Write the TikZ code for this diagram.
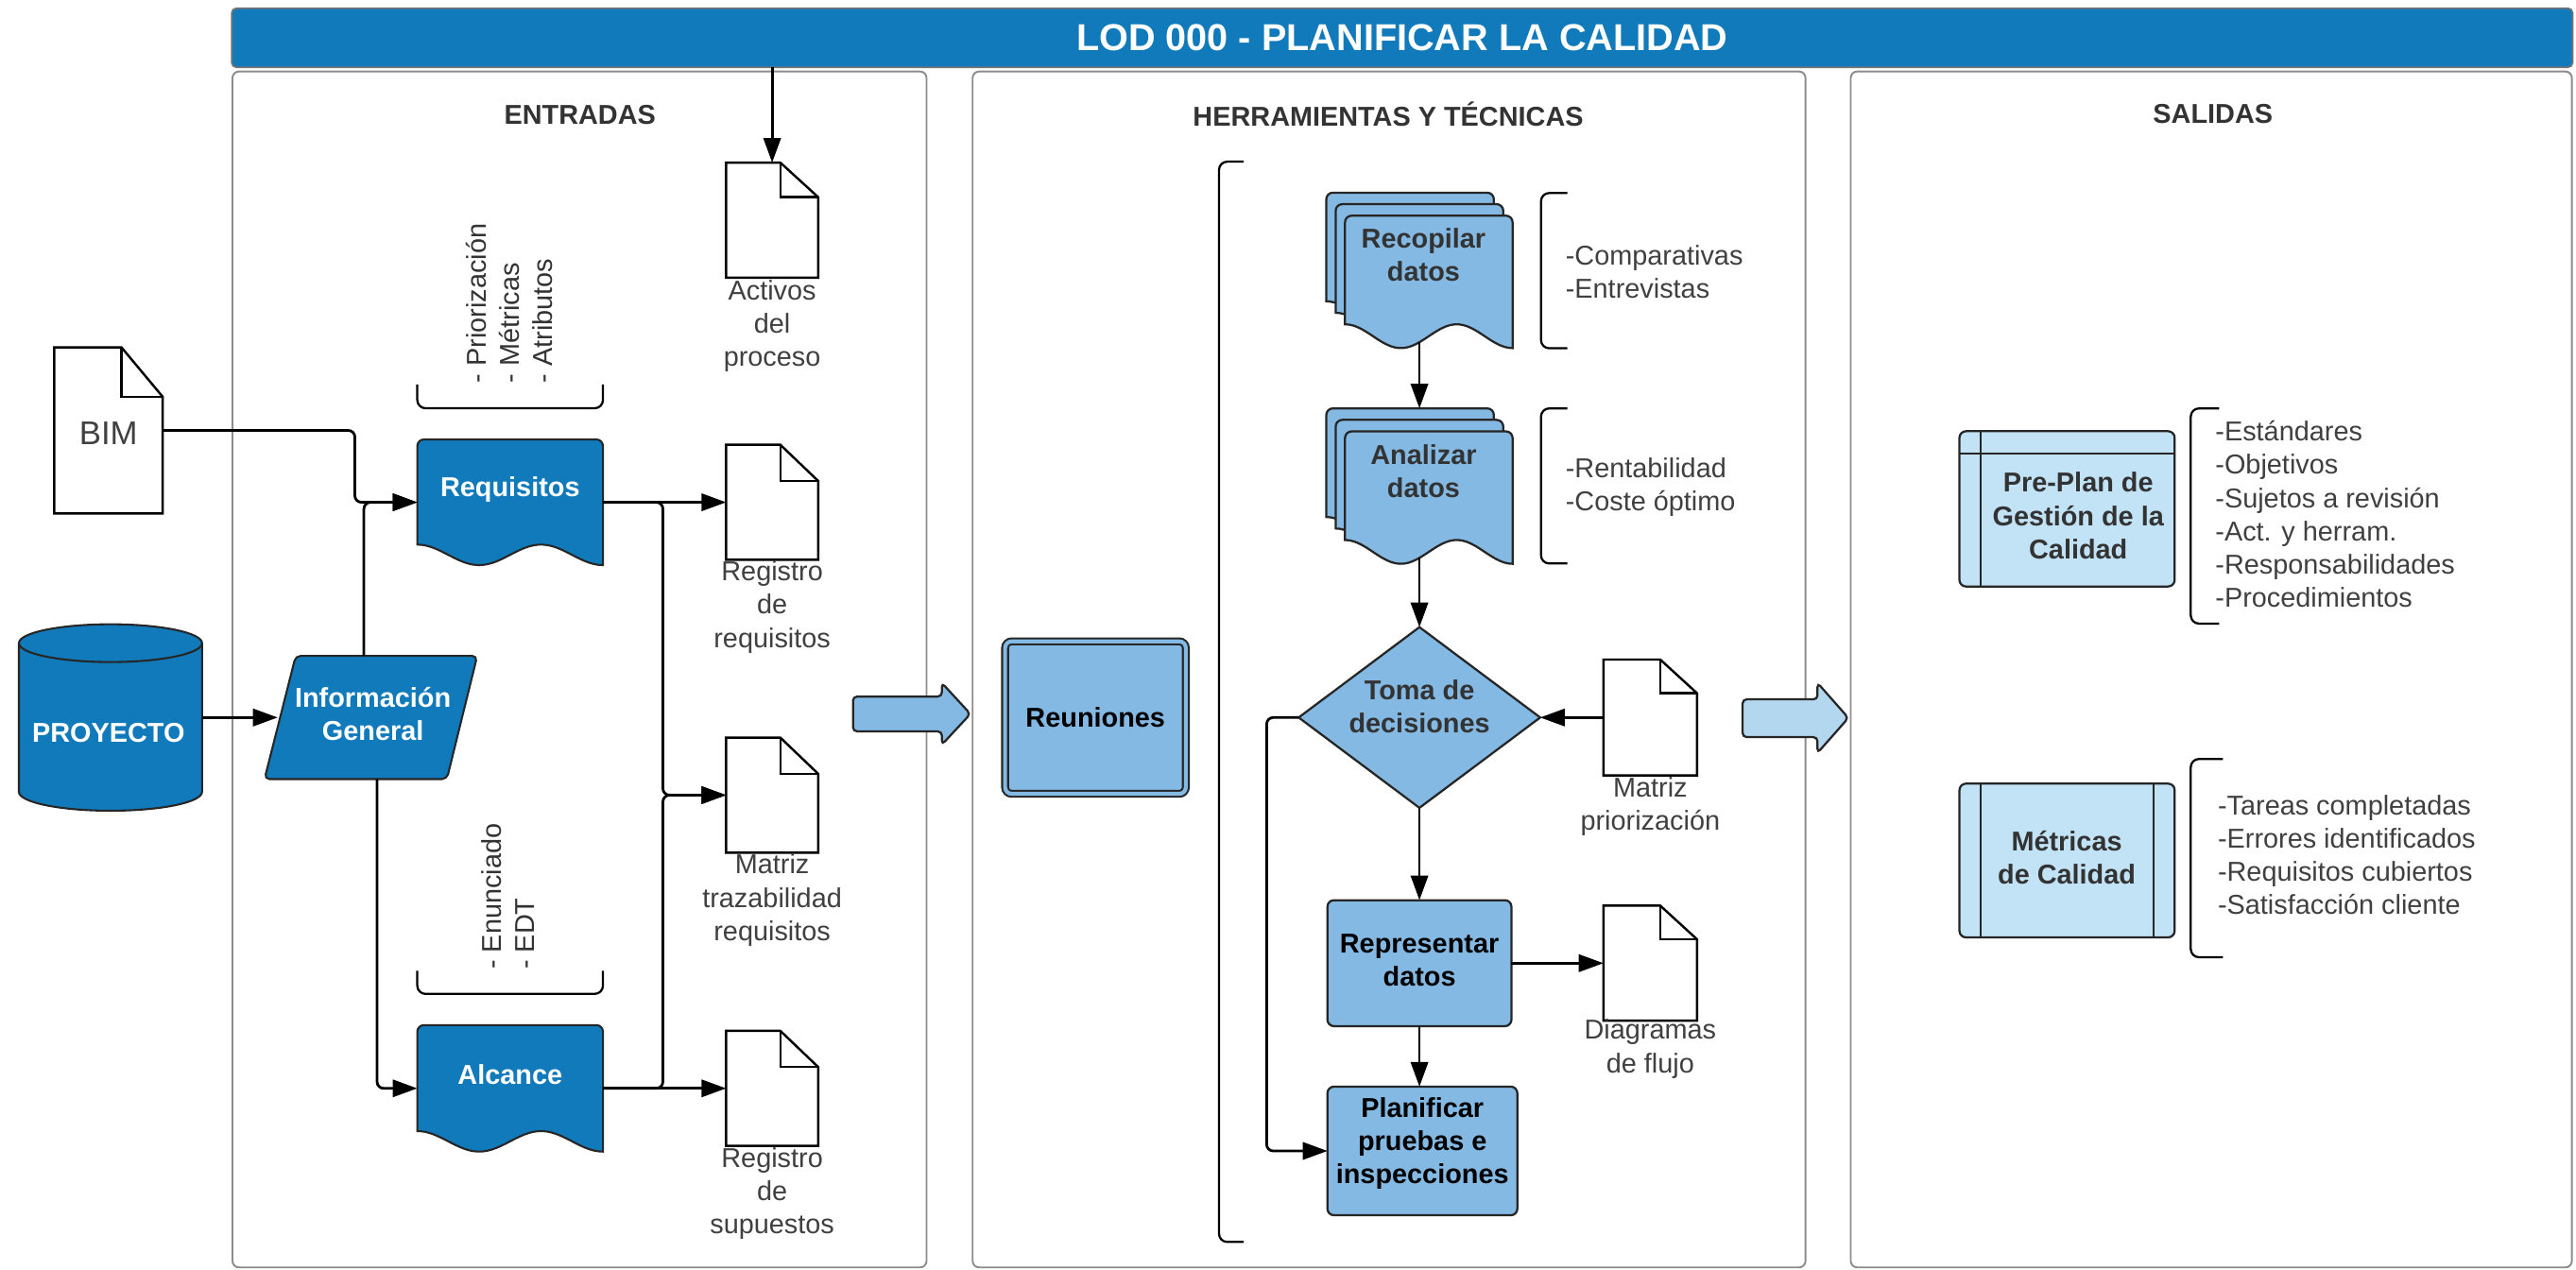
\documentclass[tikz,border=0pt]{standalone}
\usepackage{fontspec}
\setmainfont{Liberation Sans}
\usetikzlibrary{arrows.meta,shapes.geometric,calc}

\definecolor{bluedark}{HTML}{107ABB}
\definecolor{bluemid}{HTML}{83B9E3}
\definecolor{bluelight}{HTML}{C1E3F5}
\definecolor{arrowlight}{HTML}{B4D7F0}
\definecolor{panelgray}{HTML}{8C8C8C}
\definecolor{txtdark}{HTML}{333333}
\definecolor{txtgray}{HTML}{404040}

\tikzset{
  every node/.style={inner sep=0pt, outer sep=0pt},
  reg/.style={font=\fontsize{16.6}{20.3}\selectfont, text=txtgray, align=center},
  regl/.style={reg, align=left},
  bold/.style={font=\bfseries\fontsize{16.6}{20.3}\selectfont, align=center},
  hdr/.style={bold, text=txtdark},
  panel/.style={draw=panelgray, line width=1.1pt, rounded corners=4pt, fill=white},
  doc/.style={draw=black, fill=white, line width=1.4pt},
  bshape/.style={draw=black!85, fill=bluedark, line width=1.2pt},
  hshape/.style={draw=black!85, fill=bluemid, line width=1.3pt},
  sshape/.style={draw=black!85, fill=bluelight, line width=1.3pt},
  inline/.style={draw=black!85, line width=1.3pt},
  conn/.style={draw=black, line width=1.6pt, rounded corners=4pt,
               -{Triangle[length=15pt, width=10.5pt]}},
  brk/.style={draw=black, line width=1.3pt, rounded corners=5pt},
  blockarrow/.style={draw=black!85, line width=1.3pt, rounded corners=2.5pt},
}

% page with a folded corner: name, x, y (top), width, height, fold width, fold height
\newcommand\pagedoc[7]{%
  \node[minimum width=#4pt, minimum height=#5pt, anchor=north west] (#1) at (#2,#3) {};
  \filldraw[doc] (#1.north west) -- ([xshift=-#6pt]#1.north east)
     -- ([yshift=-#7pt]#1.north east) -- (#1.south east) -- (#1.south west) -- cycle;
  \draw[doc, fill=none] ([xshift=-#6pt]#1.north east) |- ([yshift=-#7pt]#1.north east);
}

% document outline with a wavy lower edge: x, top, width, bottom (right corner), wave depth
\newcommand\wavepath[5]{%
  (#1,#4-#5) [rounded corners=4pt] -- (#1,#2) -- (#1+#3,#2) -- (#1+#3,#4) [sharp corners]
  -- plot[variable=\t, domain=1:0, samples=41] ({#1+\t*#3},{#4-#5/2-#5/2*cos(540*\t)}) -- cycle}

\begin{document}
\begin{tikzpicture}[x=1pt, y=-1pt]
\fill[white] (0,0) rectangle (1568,773);
\useasboundingbox (0,0) rectangle (1568,773);

% ---------- columns ----------
\node[panel, minimum width=422.5pt, minimum height=728pt, anchor=north west] (pin) at (141.5,43.5) {};
\node[panel, minimum width=507pt, minimum height=728pt, anchor=north west] (ptools) at (592,43.5) {};
\node[panel, minimum width=439pt, minimum height=728pt, anchor=north west] (pout) at (1126.5,43.5) {};

\node[fill=bluedark, draw=black!55, line width=1pt, rounded corners=3pt,
      minimum width=1425pt, minimum height=36pt,
      font=\bfseries\fontsize{22.8}{26}\selectfont, text=white] (title) at (853.5,23)
      {LOD 000 - PLANIFICAR LA CALIDAD};

\node[hdr] (hin) at (353,70) {ENTRADAS};
\node[hdr] (htools) at (845,69.5) {HERRAMIENTAS Y TÉCNICAS};
\node[hdr] (hout) at (1347,69.5) {SALIDAS};

% ---------- inputs ----------
\pagedoc{bim}{33}{211.5}{66}{101}{25}{30}
\node[reg, font=\fontsize{20}{24}\selectfont] (bimt) at (66,263.5) {BIM};

% PROYECTO cylinder
\node[minimum width=111.5pt, minimum height=113.5pt] (pro) at (67.25,436.75) {};
\filldraw[bshape] (11.5,391.5) -- (11.5,482)
   .. controls (11.5,488.35) and (36.46,493.5) .. (67.25,493.5)
   .. controls (98.04,493.5) and (123,488.35) .. (123,482)
   -- (123,391.5)
   .. controls (123,385.15) and (98.04,380) .. (67.25,380)
   .. controls (36.46,380) and (11.5,385.15) .. (11.5,391.5) -- cycle;
\draw[bshape, fill=none] (11.5,391.5)
   .. controls (11.5,397.85) and (36.46,403) .. (67.25,403)
   .. controls (98.04,403) and (123,397.85) .. (123,391.5);
\node[bold, text=white] (prot) at (66,446) {PROYECTO};

% Información General
\node[minimum width=129.5pt, minimum height=75pt] (info) at (225.75,436.75) {};
\filldraw[bshape, rounded corners=3pt] (180,399.25) -- (290.5,399.25) -- (272,474.25) -- (161,474.25) -- cycle;
\node[bold, text=white] (infot) at (227,434.5) {Información\\General};

% Requisitos and Alcance
\node[minimum width=113pt, minimum height=76.5pt, anchor=north west] (req) at (254,267.5) {};
\filldraw[bshape] \wavepath{254}{267.5}{113}{344}{12.5};
\node[bold, text=white] (reqt) at (310.5,298) {Requisitos};

\node[minimum width=113pt, minimum height=77pt, anchor=north west] (alc) at (254,624) {};
\filldraw[bshape] \wavepath{254}{624}{113}{701}{12.5};
\node[bold, text=white] (alct) at (310.5,654) {Alcance};

\draw[brk] (254,234) |- (310.5,248.5) -| (367,234);
\node[regl, text=txtdark, rotate=90, anchor=west] (reqnote) at (310,233) {- Priorización\\- Métricas\\- Atributos};
\draw[brk] (254,591) |- (310.5,605) -| (367,591);
\node[regl, text=txtdark, rotate=90, anchor=west] (alcnote) at (309,590) {- Enunciado\\- EDT};

% documents
\pagedoc{act}{442}{99}{56}{70}{23}{21}
\node[reg] (actt) at (470,198.5) {Activos\\del\\proceso};
\pagedoc{rreq}{442}{270.75}{56}{70}{23}{22}
\node[reg] (rreqt) at (470,369.5) {Registro\\de\\requisitos};
\pagedoc{mtz}{442}{449}{56}{70}{23}{22}
\node[reg] (mtzt) at (470,548) {Matriz\\trazabilidad\\requisitos};
\pagedoc{rsup}{442}{627.5}{56}{70}{23}{22}
\node[reg] (rsupt) at (470,726.5) {Registro\\de\\supuestos};

% input connectors
\draw[conn] (title.south -| act.north) -- (act.north);
\draw[conn] (bim.east) -| ([xshift=-38pt]req.west) -- (req.west);
\draw[conn] ([xshift=-4.25pt]info.north) |- (req.west);
\draw[conn] ([xshift=3.75pt]info.south) |- (alc.west);
\draw[conn] (pro.east) -- ([xshift=8pt]info.west);
\draw[conn] (req.east) -- (rreq.west);
\draw[conn] (req.east) -| ([xshift=-38.5pt]mtz.west) -- (mtz.west);
\draw[conn] (alc.east) -| ([xshift=-38.5pt]mtz.west) -- (mtz.west);
\draw[conn] (alc.east) -- (rsup.west);

% ---------- flow arrows between columns ----------
\filldraw[blockarrow, fill=bluemid] (519.2,424) -- (573.3,424) -- (573.3,415.7) -- (590.7,434.6)
   -- (573.3,453.3) -- (573.3,445.2) -- (519.2,445.2) -- cycle;
\filldraw[blockarrow, fill=arrowlight] (1060.7,425.7) -- (1106.3,425.7) -- (1106.3,415.7) -- (1125.1,437)
   -- (1106.3,458.3) -- (1106.3,448.7) -- (1060.7,448.7) -- cycle;

% ---------- tools and techniques ----------
\node[hshape, double=bluemid, double distance=2.4pt, line width=1.2pt, rounded corners=4pt,
      minimum width=110pt, minimum height=92.8pt, font=\bfseries\fontsize{16.6}{20.3}\selectfont,
      text=black] (reu) at (666.8,436.8) {Reuniones};

\draw[brk] (757,98.4) -| (742,427) |- (757,756);

% Recopilar datos (stacked documents)
\node[minimum width=113.4pt, minimum height=94.6pt, anchor=north west] (rec) at (807.3,117.3) {};
\filldraw[hshape] \wavepath{807.3}{117.3}{102}{197.9}{14.5};
\filldraw[hshape] \wavepath{813}{124.3}{102}{204.9}{14.5};
\filldraw[hshape] \wavepath{818.7}{131.3}{102}{211.9}{14.5};
\node[bold, text=txtdark] (rect) at (866.5,155) {Recopilar\\datos};
\coordinate (recout) at (864,208.3);

% Analizar datos (stacked documents)
\node[minimum width=113.4pt, minimum height=94.6pt, anchor=north west] (ana) at (807.3,248.6) {};
\filldraw[hshape] \wavepath{807.3}{248.6}{102}{329.2}{14.5};
\filldraw[hshape] \wavepath{813}{255.6}{102}{336.2}{14.5};
\filldraw[hshape] \wavepath{818.7}{262.6}{102}{343.2}{14.5};
\node[bold, text=txtdark] (anat) at (866.5,287) {Analizar\\datos};
\coordinate (anaout) at (864,339.6);

\draw[brk] (954,117.5) -| (938,165) |- (954,212);
\node[regl, anchor=west] (recnote) at (953,165.5) {-Comparativas\\-Entrevistas};
\draw[brk] (954,248.6) -| (938,296) |- (954,343);
\node[regl, anchor=west] (ananote) at (953,296.5) {-Rentabilidad\\-Coste óptimo};

% decision
\node[hshape, diamond, minimum width=147pt, minimum height=110pt] (dec) at (864,436.75) {};
\node[bold, text=txtdark] (dect) at (864,430) {Toma de\\decisiones};

\pagedoc{mp}{976}{401.5}{57}{70.5}{22.4}{20.5}
\node[reg] (mpt) at (1004.5,490.8) {Matriz\\priorización};

\node[hshape, rounded corners=4pt, minimum width=112pt, minimum height=76.7pt] (rep) at (864,586.3) {};
\node[bold, text=black] (rept) at (864,584.5) {Representar\\datos};

\pagedoc{dia}{976}{551.3}{57}{70}{22.4}{20.5}
\node[reg] (diat) at (1004.5,638.5) {Diagramas\\de flujo};

\node[hshape, rounded corners=4pt, minimum width=115.6pt, minimum height=78.3pt] (pla) at (865.8,700.6) {};
\node[bold, text=black] (plat) at (865.8,696) {Planificar\\pruebas e\\inspecciones};

% tool connectors
\draw[conn] (recout) -- (recout |- ana.north);
\draw[conn] (anaout) -- (dec.north);
\draw[conn] (mp.west) -- (dec.east);
\draw[conn] (dec.west) -- ++(-19.5,0) |- (pla.west);
\draw[conn] (dec.south) -- (rep.north);
\draw[conn] (rep.east) -- (dia.west);
\draw[conn] (rep.south) -- (rep.south |- pla.north);

% ---------- outputs ----------
\node[sshape, rounded corners=4pt, minimum width=131pt, minimum height=94.5pt, anchor=north west] (ppl) at (1192.7,262.5) {};
\draw[inline] ([xshift=12.9pt]ppl.north west) -- ([xshift=12.9pt]ppl.south west);
\draw[inline] ([yshift=-13.5pt]ppl.north west) -- ([yshift=-13.5pt]ppl.north east);
\node[bold, text=txtdark] (pplt) at (1265,313.9) {Pre-Plan de\\Gestión de la\\Calidad};
\draw[brk] (1350.7,248.6) -| (1333.5,314) |- (1350.7,379.6);
\node[regl, anchor=west] (ppllist) at (1348.5,313) {-Estándares\\-Objetivos\\-Sujetos a revisión\\-Act. y herram.\\-Responsabilidades\\-Procedimientos};

\node[sshape, rounded corners=4pt, minimum width=131pt, minimum height=93.6pt, anchor=north west] (met) at (1192.7,477) {};
\draw[inline] ([xshift=12.9pt]met.north west) -- ([xshift=12.9pt]met.south west);
\draw[inline] ([xshift=-12.7pt]met.north east) -- ([xshift=-12.7pt]met.south east);
\node[bold, text=txtdark] (mett) at (1258,522) {Métricas\\de Calidad};
\draw[brk] (1353,462) -| (1333.5,522) |- (1353,582.7);
\node[regl, anchor=west] (metlist) at (1350,520.4) {-Tareas completadas\\-Errores identificados\\-Requisitos cubiertos\\-Satisfacción cliente};

\end{tikzpicture}
\end{document}
